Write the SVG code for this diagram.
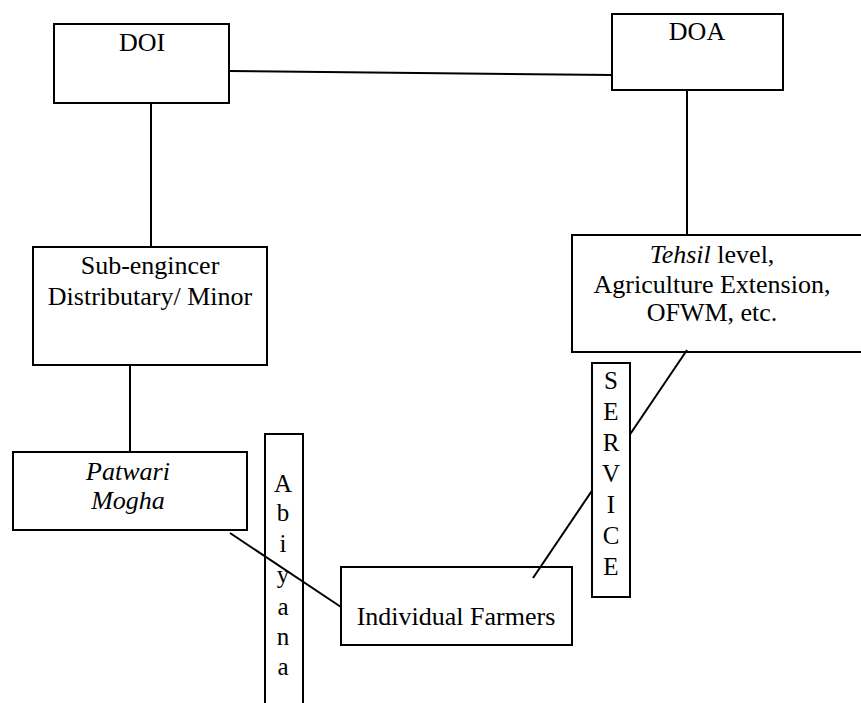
<svg xmlns="http://www.w3.org/2000/svg" width="861" height="703" viewBox="0 0 861 703">
<style>
  .box { fill: #ffffff; stroke: #000000; stroke-width: 2; }
  .link { stroke: #000000; stroke-width: 2; fill: none; }
  text { font-family: "Liberation Serif", "Times New Roman", serif; font-size: 26px; fill: #000000; text-anchor: middle; }
  .it { font-style: italic; }
  .v { font-size: 25px; }
</style>
<rect x="0" y="0" width="861" height="703" fill="#ffffff"/>
<g id="doi">
  <rect class="box" x="54" y="24" width="175" height="79"/>
  <text x="142" y="51">DOI</text>
</g>
<g id="doa">
  <rect class="box" x="612" y="14" width="171" height="76"/>
  <text x="697" y="40">DOA</text>
</g>
<g id="subengineer">
  <rect class="box" x="33" y="247" width="234" height="118"/>
  <text x="150" y="274">Sub-engincer</text>
  <text x="150" y="305">Distributary/ Minor</text>
</g>
<g id="tehsil">
  <rect class="box" x="572" y="235" width="300" height="117"/>
  <text x="712" y="263"><tspan class="it">Tehsil</tspan> level,</text>
  <text x="712" y="293">Agriculture Extension,</text>
  <text x="712" y="321">OFWM, etc.</text>
</g>
<g id="patwari">
  <rect class="box" x="13" y="452" width="234" height="78"/>
  <text class="it" x="128" y="480">Patwari</text>
  <text class="it" x="128" y="509">Mogha</text>
</g>
<g id="abiyana">
  <rect x="265" y="434" width="38" height="280" fill="none" stroke="#000000" stroke-width="2"/>
  <text class="v" x="283" y="492">A</text>
  <text class="v" x="283" y="521">b</text>
  <text class="v" x="283" y="552">i</text>
  <text class="v" x="283" y="583">y</text>
  <text class="v" x="283" y="615">a</text>
  <text class="v" x="283" y="645">n</text>
  <text class="v" x="283" y="675">a</text>
</g>
<g id="farmers">
  <rect class="box" x="341" y="567" width="231" height="78"/>
  <text x="456" y="625">Individual Farmers</text>
</g>
<g id="connectors">
  <line class="link" x1="229" y1="71" x2="612" y2="75"/>
  <line class="link" x1="151" y1="103" x2="151" y2="247"/>
  <line class="link" x1="687" y1="90" x2="687" y2="235"/>
  <line class="link" x1="130" y1="365" x2="130" y2="452"/>
  <line class="link" x1="687" y1="350" x2="533" y2="578"/>
  <line class="link" x1="230" y1="533" x2="341" y2="607"/>
</g>
<g id="service">
  <rect class="box" x="592" y="363" width="38" height="234"/>
  <text class="v" x="611" y="389">S</text>
  <text class="v" x="611" y="420">E</text>
  <text class="v" x="611" y="451">R</text>
  <text class="v" x="611" y="482">V</text>
  <text class="v" x="611" y="513">I</text>
  <text class="v" x="611" y="544">C</text>
  <text class="v" x="611" y="575">E</text>
</g>
</svg>
